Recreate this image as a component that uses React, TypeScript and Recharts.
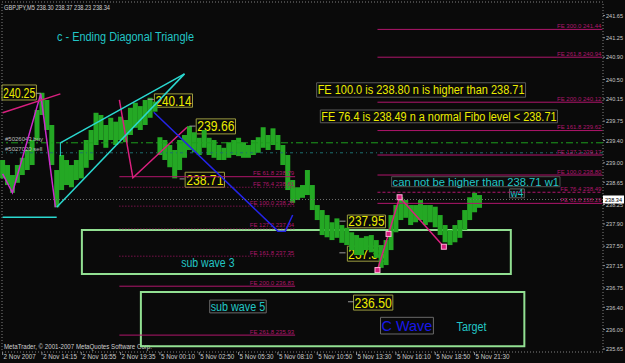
import React from 'react';
import { ComposedChart, Bar, Line, XAxis, YAxis, ReferenceLine, ReferenceArea } from 'recharts';

const FONT = '"Liberation Sans", Arial, Helvetica, sans-serif';
const BG = '#0a0a0a';
const GREEN = '#24a824';
const CYAN = '#22c6c6';
const YELLOW = '#ecec00';
const FIBO = '#b0166c';
const PINK = '#d8207e';
const AXIS_TEXT = '#c8c8c8';

// one slot per M5 bar across the window
const SLOTS = 489;
const CANDLE_STEP = 4;
const Y_MIN = 235.596;
const Y_MAX = 241.893;

const timeLabels = [
  '2 Nov 2007', '2 Nov 14:15', '2 Nov 16:55', '2 Nov 19:35', '5 Nov 00:10', '5 Nov 02:50',
  '5 Nov 05:30', '5 Nov 08:10', '5 Nov 10:50', '5 Nov 13:30', '5 Nov 16:10', '5 Nov 18:50', '5 Nov 21:30',
];
const timeTicks = [0, 32, 64, 96, 128, 160, 192, 224, 256, 288, 320, 352, 384];

const priceTicks = [
  235.65, 236.0, 236.4, 236.75, 237.15, 237.5, 237.9, 238.25, 238.65,
  239.0, 239.4, 239.75, 240.15, 240.5, 240.9, 241.25, 241.65,
];

// GBPJPY M5, high / low sampled every 4 bars
const highs = [
  239.05, 238.96, 238.78, 238.96, 239.09, 239.23, 239.41, 239.95, 240.26, 240.13,
  239.68, 238.87, 239.14, 239.05, 238.96, 239.05, 239.23, 239.41, 239.59, 239.90,
  239.86, 239.68, 239.81, 239.74, 239.83, 239.77, 239.99, 240.08, 240.02, 240.13,
  240.17, 240.10, 239.46, 239.41, 239.32, 239.23, 239.41, 239.50, 239.66, 239.55,
  239.45, 239.59, 239.45, 239.41, 239.32, 239.27, 239.37, 239.41, 239.45, 239.37,
  239.32, 239.41, 239.46, 239.64, 239.50, 239.62, 239.50, 239.32, 239.14, 238.69,
  238.56, 238.60, 238.87, 238.60, 238.24, 238.15, 238.06, 237.93, 238.00, 237.88,
  237.83, 237.75, 237.70, 237.65, 237.68, 237.70, 237.61, 237.52, 237.61, 238.06,
  238.24, 238.38, 238.33, 238.24, 238.24, 238.33, 238.24, 238.24, 238.21, 238.06,
  237.88, 237.79, 237.88, 237.97, 238.15, 238.38, 238.46, 238.42,
];
const lows = [
  238.72, 238.60, 238.46, 238.64, 238.78, 238.87, 238.96, 239.41, 239.86, 239.59,
  238.96, 238.20, 238.51, 238.60, 238.56, 238.69, 238.72, 238.91, 239.05, 239.32,
  239.41, 239.27, 239.41, 239.32, 239.41, 239.37, 239.50, 239.63, 239.59, 239.68,
  239.81, 239.92, 239.14, 239.05, 238.92, 238.72, 238.87, 239.09, 239.23, 239.19,
  239.14, 239.27, 239.14, 239.09, 239.05, 239.05, 239.09, 239.14, 239.12, 239.09,
  239.09, 239.14, 239.18, 239.27, 239.23, 239.32, 239.23, 238.96, 238.51, 238.28,
  238.33, 238.37, 238.42, 238.15, 237.97, 237.70, 237.66, 237.61, 237.65, 237.56,
  237.52, 237.43, 237.34, 237.34, 237.43, 237.39, 237.29, 237.11, 237.16, 237.43,
  237.75, 237.97, 238.01, 237.88, 237.93, 237.97, 237.88, 237.93, 237.84, 237.70,
  237.57, 237.52, 237.57, 237.65, 237.79, 237.97, 238.11, 238.19,
];

// wave counts: [slot, price]
const waveA = [[0, 238.8], [8, 238.46], [31, 240.24], [43, 238.2]];
const waveB = [[95, 240.13], [106, 238.73], [150, 239.64]];
const blueLeg = [[123, 239.91], [224, 237.77], [230, 237.77], [236, 238.06]];
const waveC = [[305, 237.07], [314, 237.72], [323, 238.38], [359, 237.49]];

const trendPink = [[0, 239.9], [47, 240.24]];
const wedgeUpper = [[47, 239.36], [148, 240.6]];
const wedgeLower = [[44, 238.2], [148, 240.6]];
const wedgeStem = [[47, 239.36], [47, 239.12]];
const cyanBase = [[0, 238.02], [44, 238.02]];

const buyPrice = 239.36;
const sellPrice = 239.18;
const bidPrice = 238.34;

const fiboLeftLevels = ['61.8', '76.4', '100.0', '127.2', '161.8', '200.0', '261.8'];
const fiboLeftPrices = [238.75, 238.56, 238.22, 237.81, 237.32, 236.78, 235.9];
const fiboLeftText = ['238.79', '238.61', '238.26', '237.84', '237.35', '236.83', '235.93'];
const fiboLeftDotted = [false, true, true, true, true, false, false];
const fiboLeftSpan = [95, 238];

const fiboRightLevels = ['300.0', '261.8', '200.0', '161.8', '127.2', '100.0', '76.4', '61.8'];
const fiboRightPrices = [241.4, 240.9, 240.09, 239.58, 239.14, 238.78, 238.47, 238.27];
const fiboRightText = ['241.44', '240.94', '240.12', '239.62', '239.17', '238.80', '238.49', '238.29'];
const fiboRightDashed = [false, false, false, false, false, false, true, false];
const fiboRightSpan = [305, 488];

// price tags: value, dash slots, box slots, box prices
const tagValues = [240.25, 240.14, 239.66, 238.71, 237.95, 237.38, 236.5];
const tagDash = [[27, 31], [118, 123], [152, 157], [144, 148], [274, 279], [274, 279], [281, 286]];
const tagBoxSlots = [[0, 27], [124, 154], [158, 189], [149, 180], [281, 311], [281, 311], [286, 317]];
const tagBoxPrices = [
  [240.4, 240.13], [240.24, 240.0], [239.79, 239.52], [238.83, 238.56],
  [238.06, 237.83], [237.5, 237.23], [236.62, 236.35],
];

const targetBoxes = [
  { slots: [65, 413], prices: [237.0, 237.79] },
  { slots: [113, 424], prices: [235.7, 236.675] },
];

const notes = [
  { text: 'FE 100.0 is 238.80 n is higher than 238.71', slots: [256, 425], prices: [240.44, 240.18], color: YELLOW, size: 12.5, border: '#5a5a5a' },
  { text: 'FE 76.4 is 238.49 n a normal Fibo level < 238.71', slots: [259, 451], prices: [239.95, 239.72], color: YELLOW, size: 12.5, border: '#5a5a5a' },
  { text: 'can not be higher than  238.71 w1', slots: [317, 453], prices: [238.75, 238.57], color: CYAN, size: 11.5, border: '#505050' },
  { text: 'w4', slots: [413, 424], prices: [238.53, 238.37], color: CYAN, size: 11, border: '#606060' },
  { text: 'C Wave', slots: [308, 350], prices: [236.22, 235.92], color: '#1818e8', size: 15, border: '#6a6a6a' },
  { text: 'sub wave 5', slots: [169, 214], prices: [236.53, 236.3], color: CYAN, size: 12, border: '#6a6a6a' },
  { text: 'c - Ending Diagonal Triangle', slots: [44, 156], prices: [241.37, 241.17], color: CYAN, size: 12.5, border: 'none' },
  { text: 'sub wave 3', slots: [145, 189], prices: [237.29, 237.11], color: CYAN, size: 12, border: 'none' },
  { text: 'Target', slots: [369, 394], prices: [236.15, 235.97], color: CYAN, size: 12, border: 'none' },
];

type Row = {
  i: number;
  range: number[] | null;
  waveA: number | null;
  waveB: number | null;
  blue: number | null;
  waveC: number | null;
};

const table: Row[] = Array.from({ length: SLOTS }, (_, i) => ({
  i, range: null, waveA: null, waveB: null, blue: null, waveC: null,
}));
highs.forEach((h, k) => {
  table[k * CANDLE_STEP].range = [lows[k], h];
});
const put = (pts: number[][], key: 'waveA' | 'waveB' | 'blue' | 'waveC') =>
  pts.forEach(([s, p]) => {
    table[s][key] = p;
  });
put(waveA, 'waveA');
put(waveB, 'waveB');
put(blueLeg, 'blue');
put(waveC, 'waveC');

const seg = (pts: number[][]) => pts.map(([x, y]) => ({ x, y }));

function toRect(vb: any) {
  if (!vb) return null;
  if (typeof vb.width === 'number' && typeof vb.x === 'number') return vb;
  if (typeof vb.x1 === 'number') {
    return {
      x: Math.min(vb.x1, vb.x2),
      y: Math.min(vb.y1, vb.y2),
      width: Math.abs(vb.x2 - vb.x1),
      height: Math.abs(vb.y2 - vb.y1),
    };
  }
  return null;
}

function AreaText(props: any) {
  const r = toRect(props.viewBox);
  if (!r) return null;
  const { text, color, size, pad = 1 } = props.spec;
  return (
    <text
      x={r.x + r.width / 2}
      y={r.y + r.height / 2 + size * 0.36}
      fill={color}
      fontSize={size}
      fontFamily={FONT}
      textAnchor="middle"
      textLength={Math.max(1, r.width - 2 * pad)}
      lengthAdjust="spacingAndGlyphs"
    >
      {text}
    </text>
  );
}

function LineText(props: any) {
  const r = toRect(props.viewBox);
  if (!r) return null;
  const { text, color, size, side, lift = 1.5 } = props.spec;
  const atEnd = side === 'end';
  return (
    <text
      x={atEnd ? r.x + r.width - 1 : r.x + 3}
      y={r.y - lift}
      fill={color}
      fontSize={size}
      fontFamily={FONT}
      textAnchor={atEnd ? 'end' : 'start'}
    >
      {text}
    </text>
  );
}

function BidBox(props: any) {
  const r = toRect(props.viewBox);
  if (!r) return null;
  const x = r.x + r.width;
  return (
    <g>
      <rect x={x} y={r.y - 4} width={21} height={8} fill="#ffffff" />
      <text x={x + 2} y={r.y + 2.3} fontSize={6} fill="#000000" fontFamily={FONT} textLength={17} lengthAdjust="spacingAndGlyphs">
        {bidPrice.toFixed(2)}
      </text>
    </g>
  );
}

function CornerText(props: any) {
  const r = toRect(props.viewBox);
  if (!r) return null;
  const { text, top, width } = props.spec;
  return (
    <text
      x={r.x + 2}
      y={top ? r.y + 8 : r.y + r.height - 3}
      fontSize={7}
      fill="#d0d0d0"
      fontFamily={FONT}
      textLength={width}
      lengthAdjust="spacingAndGlyphs"
    >
      {text}
    </text>
  );
}

function Candle(p: any) {
  if (!p.payload || !p.payload.range) return <g />;
  const top = Math.min(p.y, p.y + p.height);
  const h = Math.abs(p.height);
  const cx = p.x + p.width / 2;
  return <rect x={cx - 2.5} y={top} width={5} height={Math.max(1, h)} fill={GREEN} />;
}

function SquareDot(p: any) {
  if (p.value == null || p.cy == null) return <g key={p.key} />;
  return <rect key={p.key} x={p.cx - 2.5} y={p.cy - 2.5} width={5} height={5} fill={PINK} stroke="#ffb0d8" strokeWidth={1} />;
}

function TimeTick(props: any) {
  const { x, y, payload } = props;
  const k = timeTicks.indexOf(payload.value);
  return (
    <text x={x + 1} y={y + 2} fontSize={6.3} fill={AXIS_TEXT} fontFamily={FONT}>
      {timeLabels[k]}
    </text>
  );
}

function PriceTick(props: any) {
  const { x, y, payload } = props;
  return (
    <text x={x} y={y + 2.3} fontSize={6} fill={AXIS_TEXT} fontFamily={FONT} textLength={17} lengthAdjust="spacingAndGlyphs">
      {Number(payload.value).toFixed(2)}
    </text>
  );
}

export default function App() {
  return (
    <div style={{ position: 'fixed', left: 0, top: 0, width: 625, height: 363, background: BG }}>
      <ComposedChart width={625} height={363} data={table} margin={{ top: 2, right: 0, bottom: 0, left: 2 }}>
        <XAxis
          dataKey="i"
          type="category"
          ticks={timeTicks}
          interval={0}
          tick={<TimeTick />}
          tickSize={3}
          tickLine={{ stroke: '#8c8c8c' }}
          axisLine={false}
          height={11}
        />
        <YAxis
          orientation="right"
          type="number"
          domain={[Y_MIN, Y_MAX]}
          ticks={priceTicks}
          interval={0}
          allowDataOverflow
          width={22}
          tick={<PriceTick />}
          tickSize={2}
          tickMargin={1}
          tickLine={{ stroke: '#8c8c8c' }}
          axisLine={false}
        />

        <ReferenceArea x1={0} x2={SLOTS - 1} y1={Y_MIN} y2={Y_MAX} fill="none" stroke="#808080" strokeDasharray="1 2"
          label={<CornerText spec={{ text: 'GBPJPY,M5  238.30 238.37 238.23 238.34', top: true, width: 106 }} />} />
        <ReferenceArea x1={0} x2={SLOTS - 1} y1={Y_MIN} y2={Y_MAX} fill="none" stroke="none"
          label={<CornerText spec={{ text: 'MetaTrader, \u00a9 2001-2007 MetaQuotes Software Corp.', top: false, width: 148 }} />} />

        <ReferenceLine y={buyPrice} stroke="#1e9e1e" strokeDasharray="7 3 2 3"
          label={<LineText spec={{ text: '#5026043 buy', color: '#bdbdbd', size: 6, side: 'start', lift: 2 }} />} />
        <ReferenceLine y={sellPrice} stroke="#1d6e6e" strokeDasharray="3 3 1 3"
          label={<LineText spec={{ text: '#5027020 sell', color: '#bdbdbd', size: 6, side: 'start', lift: 2 }} />} />

        {fiboLeftPrices.map((p, k) => (
          <ReferenceLine
            key={'fl' + k}
            segment={[{ x: fiboLeftSpan[0], y: p }, { x: fiboLeftSpan[1], y: p }]}
            stroke={FIBO}
            strokeDasharray={fiboLeftDotted[k] ? '1 2' : undefined}
            label={<LineText spec={{ text: `FE ${fiboLeftLevels[k]} ${fiboLeftText[k]}`, color: FIBO, size: 6, side: 'end' }} />}
          />
        ))}
        {fiboRightPrices.map((p, k) => (
          <ReferenceLine
            key={'fr' + k}
            segment={[{ x: fiboRightSpan[0], y: p }, { x: fiboRightSpan[1], y: p }]}
            stroke={FIBO}
            strokeDasharray={fiboRightDashed[k] ? '3 2' : undefined}
            label={<LineText spec={{ text: `FE ${fiboRightLevels[k]} ${fiboRightText[k]}`, color: FIBO, size: 6, side: 'end' }} />}
          />
        ))}

        {targetBoxes.map((b, k) => (
          <ReferenceArea key={'tb' + k} x1={b.slots[0]} x2={b.slots[1]} y1={b.prices[0]} y2={b.prices[1]}
            fill="none" stroke="#92e092" strokeWidth={2} />
        ))}

        <Bar dataKey="range" shape={Candle} isAnimationActive={false} />

        <Line dataKey="waveA" stroke="#cc2ccc" strokeWidth={1.5} dot={false} connectNulls isAnimationActive={false} />
        <Line dataKey="waveB" stroke={PINK} strokeWidth={1.5} dot={false} connectNulls isAnimationActive={false} />
        <Line dataKey="blue" stroke="#2424e8" strokeWidth={1.5} dot={false} connectNulls isAnimationActive={false} />
        <Line dataKey="waveC" stroke={PINK} strokeWidth={1.5} dot={<SquareDot />} connectNulls isAnimationActive={false} />

        <ReferenceLine segment={seg(trendPink)} stroke={PINK} strokeWidth={1.5} />
        <ReferenceLine segment={seg(wedgeUpper)} stroke="#2ad8d0" strokeWidth={1.5} />
        <ReferenceLine segment={seg(wedgeLower)} stroke="#2ad8d0" strokeWidth={1.5} />
        <ReferenceLine segment={seg(wedgeStem)} stroke="#2ad8d0" strokeWidth={1} />
        <ReferenceLine segment={seg(cyanBase)} stroke="#2ad8d0" strokeWidth={1.5} />

        <ReferenceLine y={bidPrice} stroke="#707070" strokeDasharray="1 2" label={<BidBox />} />

        {tagValues.map((v, k) => (
          <ReferenceLine key={'td' + k} segment={[{ x: tagDash[k][0], y: v }, { x: tagDash[k][1], y: v }]} stroke="#9a9a9a" />
        ))}
        {tagValues.map((v, k) => (
          <ReferenceArea
            key={'tg' + k}
            x1={tagBoxSlots[k][0]}
            x2={tagBoxSlots[k][1]}
            y1={tagBoxPrices[k][1]}
            y2={tagBoxPrices[k][0]}
            fill="none"
            stroke="#9c9c40"
            label={<AreaText spec={{ text: v.toFixed(2), color: YELLOW, size: 14, pad: 1 }} />}
          />
        ))}

        {notes.map((n, k) => (
          <ReferenceArea
            key={'nt' + k}
            x1={n.slots[0]}
            x2={n.slots[1]}
            y1={n.prices[1]}
            y2={n.prices[0]}
            fill="none"
            stroke={n.border}
            label={<AreaText spec={{ text: n.text, color: n.color, size: n.size, pad: 1 }} />}
          />
        ))}
      </ComposedChart>
    </div>
  );
}
